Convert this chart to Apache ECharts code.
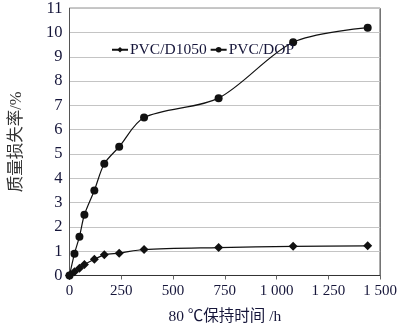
<!DOCTYPE html>
<html>
<head>
<meta charset="utf-8">
<script src="https://cdn.jsdelivr.net/npm/echarts@6/dist/echarts.min.js"></script>
<style>
html,body{margin:0;padding:0;background:#fff;}
#c{width:400px;height:330px;}
</style>
</head>
<body>
<div id="c"></div>
<script>
var hours = [0, 24, 48, 72, 120, 168, 240, 360, 720, 1080, 1440];
var d1050 = [0, 0.15, 0.3, 0.45, 0.67, 0.85, 0.92, 1.07, 1.15, 1.2, 1.22];
var dop = [0, 0.9, 1.6, 2.5, 3.5, 4.6, 5.3, 6.5, 7.3, 9.6, 10.2];
var seriesNames = ['PVC/D1050', 'PVC/DOP'];
var xTickLabels = {0:'0',250:'250',500:'500',750:'750',1000:'1 000',1250:'1 250',1500:'1 500'};
var xName = '80 ℃保持时间 /h';
var yName = '质量损失率/%';

function pairs(xs, ys){ return xs.map(function(x,i){ return [x, ys[i]]; }); }

var font = '"Liberation Serif", "Noto Sans CJK SC", serif';
var txt = '#16163a';
var chart = echarts.init(document.getElementById('c'), null, {renderer:'canvas'});
chart.setOption({
  animation: false,
  backgroundColor: '#fff',
  grid: {left: 69, right: 7, top: 8, bottom: 53, show: true, borderColor: '#222', borderWidth: 1},
  legend: {
    data: seriesNames,
    left: 106, top: 37,
    itemWidth: 16, itemHeight: 7, itemGap: 3,
    textStyle: {fontFamily: font, fontSize: 15.5, color: txt, padding: [0,0,0,-3]}
  },
  xAxis: {
    type: 'value', min: 0, max: 1500, interval: 250,
    name: xName, nameLocation: 'middle', nameGap: 34,
    nameTextStyle: {fontFamily: font, fontSize: 15.5, color: txt},
    axisLine: {lineStyle: {color: '#333', width: 1}},
    axisTick: {show: true, inside: false, length: 4, lineStyle: {color: '#666'}},
    axisLabel: {fontFamily: font, fontSize: 15, color: txt, margin: 8,
      formatter: function(v){ return xTickLabels[v] !== undefined ? xTickLabels[v] : ''; }},
    splitLine: {show: false}
  },
  yAxis: {
    type: 'value', min: 0, max: 11, interval: 1,
    name: yName, nameLocation: 'middle', nameGap: 45, nameRotate: 90,
    nameTextStyle: {fontFamily: font, fontSize: 16.5, color: '#333'},
    axisLine: {show: true, lineStyle: {color: '#555', width: 1}},
    axisTick: {show: false},
    axisLabel: {fontFamily: font, fontSize: 16.5, color: txt, margin: 7},
    splitLine: {show: true, lineStyle: {color: '#c4c4c4', width: 1}}
  },
  series: [
    {name: seriesNames[0], type: 'line', data: pairs(hours, d1050), smooth: 0.3,
     symbol: 'diamond', symbolSize: 9,
     itemStyle: {color: '#111'}, lineStyle: {color: '#111', width: 1.2}},
    {name: seriesNames[1], type: 'line', data: pairs(hours, dop), smooth: 0.3,
     symbol: 'circle', symbolSize: 8,
     itemStyle: {color: '#111'}, lineStyle: {color: '#111', width: 1.2}}
  ]
});
</script>
</body>
</html>
